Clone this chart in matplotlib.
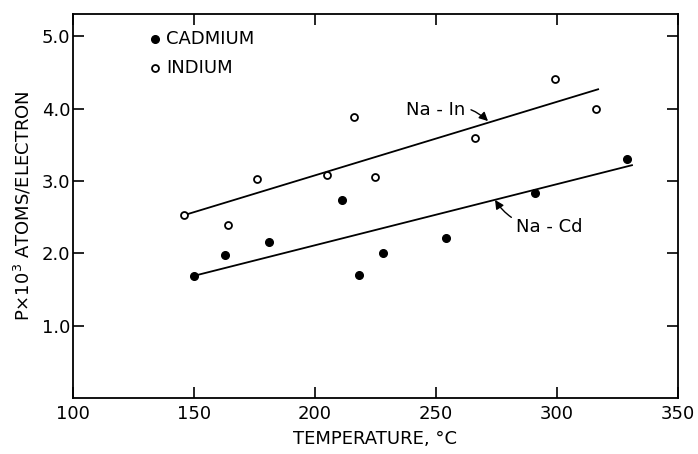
import matplotlib
matplotlib.use("Agg")
import matplotlib.pyplot as plt
import numpy as np

cd_temp = [150, 163, 181, 211, 218, 228, 254, 291, 329]
cd_val = [1.69, 1.98, 2.16, 2.74, 1.70, 2.00, 2.21, 2.84, 3.30]
in_temp = [146, 164, 176, 205, 216, 225, 266, 299, 316]
in_val = [2.53, 2.39, 3.03, 3.08, 3.88, 3.05, 3.60, 4.41, 4.00]
fit_in_x = [146, 317]
fit_in_y = [2.53, 4.27]
fit_cd_x = [150, 331]
fit_cd_y = [1.69, 3.22]
xticks = [100, 150, 200, 250, 300, 350]
yticks = [1.0, 2.0, 3.0, 4.0, 5.0]

plt.rcParams['font.family'] = ['DejaVu Sans']
FS = 13
fig = plt.figure(figsize=(6.98, 4.54), dpi=100)
ax = fig.add_axes([0.1046, 0.1233, 0.8667, 0.8457])

ax.plot(fit_in_x, fit_in_y, color='black', lw=1.3)
ax.plot(fit_cd_x, fit_cd_y, color='black', lw=1.3)
ax.plot(cd_temp, cd_val, 'o', color='black', ms=5.5, ls='none')
ax.plot(in_temp, in_val, 'o', mfc='white', mec='black', mew=1.3, ms=5, ls='none')

ax.set_xlim(100, 350)
ax.set_ylim(0, 5.31)
ax.set_xticks(xticks)
ax.set_xticklabels([str(t) for t in xticks], fontsize=FS)
ax.set_yticks(yticks)
ax.set_yticklabels([f"{t:.1f}" for t in yticks], fontsize=FS)
ax.tick_params(direction='in', length=8, width=1.2, top=True, right=True)
ax.tick_params(axis='x', pad=5)
ax.tick_params(axis='y', pad=2)
for s in ax.spines.values():
    s.set_linewidth(1.3)

ax.set_xlabel('TEMPERATURE, °C', fontsize=FS, labelpad=5)
ax.set_ylabel(r'P$\times$10$^3$ ATOMS/ELECTRON', fontsize=FS, labelpad=6)

# legend
ax.plot([134], [4.96], 'o', color='black', ms=5.5)
ax.text(138.5, 4.96, 'CADMIUM', fontsize=FS, va='center')
ax.plot([134], [4.56], 'o', mfc='white', mec='black', mew=1.3, ms=5)
ax.text(138.5, 4.56, 'INDIUM', fontsize=FS, va='center')

ax.annotate('Na - In', xy=(271.5, 3.83), xytext=(250, 3.99), fontsize=FS,
            ha='center', va='center',
            arrowprops=dict(arrowstyle='-|>', color='black', lw=1.0,
                            connectionstyle='arc3,rad=-0.3', shrinkA=2, shrinkB=0))
ax.annotate('Na - Cd', xy=(274.4, 2.74), xytext=(297, 2.37), fontsize=FS,
            ha='center', va='center',
            arrowprops=dict(arrowstyle='-|>', color='black', lw=1.0,
                            connectionstyle='arc3,rad=-0.3', shrinkA=2, shrinkB=0))

fig.savefig('out.png', dpi=100)
